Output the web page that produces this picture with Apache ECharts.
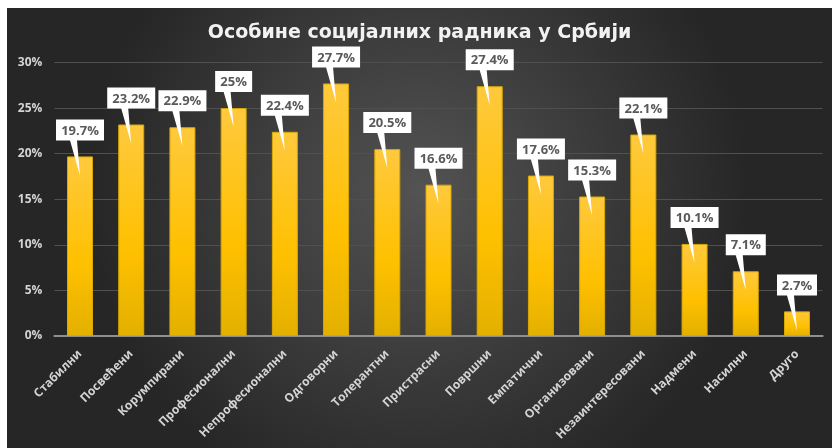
<!DOCTYPE html>
<html>
<head>
<meta charset="utf-8">
<script src="https://cdn.jsdelivr.net/npm/echarts@6/dist/echarts.min.js"></script>
<style>
  html, body { margin: 0; padding: 0; background: #fff; }
  #chart { position: absolute; left: 7px; top: 8px; width: 825px; height: 440px; }
</style>
</head>
<body>
<div id="chart"></div>
<script>
  // категорије и вредности (%)
  var categories = ['Стабилни', 'Посвећени', 'Корумпирани', 'Професионални', 'Непрофесионални',
    'Одговорни', 'Толерантни', 'Пристрасни', 'Површни', 'Емпатични', 'Организовани',
    'Незаинтересовани', 'Надмени', 'Насилни', 'Друго'];
  var values = [19.7, 23.2, 22.9, 25, 22.4, 27.7, 20.5, 16.6, 27.4, 17.6, 15.3, 22.1, 10.1, 7.1, 2.7];
  var yTicks = [0, 5, 10, 15, 20, 25, 30];

  var labelFont = 'bold 13px "Open Sans", sans-serif';
  var measureCtx = document.createElement('canvas').getContext('2d');
  measureCtx.font = labelFont;

  var chart = echarts.init(document.getElementById('chart'));

  // облачић са стрелицом изнад сваког стубића
  function renderCallout(params, api) {
    var v = api.value(1);
    var p = api.coord([api.value(0), v]);
    var txt = v + '%';
    var w = Math.round(measureCtx.measureText(txt).width) + 10;
    var h = 21;
    var cx = p[0];
    var yb = p[1] - 16;
    var x0 = cx - w / 2, x1 = cx + w / 2, y0 = yb - h;
    return {
      type: 'group',
      children: [
        {
          type: 'polygon',
          shape: {
            points: [[x0, y0], [x1, y0], [x1, yb], [cx - 3, yb], [cx, p[1] + 19], [cx - 10, yb], [x0, yb]]
          },
          style: { fill: '#ffffff', stroke: null }
        },
        {
          type: 'text',
          style: {
            text: txt,
            x: cx,
            y: y0 + h / 2 + 1,
            align: 'center',
            verticalAlign: 'middle',
            font: labelFont,
            fill: '#595959'
          }
        }
      ]
    };
  }

  var option = {
    backgroundColor: {
      type: 'radial', x: 0.5, y: 0.42, r: 0.75,
      colorStops: [
        { offset: 0, color: '#535353' },
        { offset: 1, color: '#262626' }
      ]
    },
    animation: false,
    title: {
      text: 'Особине социјалних радника у Србији',
      left: 'center',
      top: 11,
      textStyle: {
        color: '#f2f2f2',
        fontSize: 19,
        fontWeight: 'bold',
        fontFamily: '"DejaVu Sans", sans-serif'
      }
    },
    grid: { left: 47.4, right: 9.4, top: 54.5, bottom: 112, containLabel: false },
    xAxis: {
      type: 'category',
      data: categories,
      axisTick: { show: false },
      axisLine: { lineStyle: { color: '#8f8f8f', width: 2 } },
      axisLabel: {
        rotate: 45,
        interval: 0,
        margin: 16,
        color: '#d4d4d4',
        fontSize: 12,
        fontWeight: 'bold',
        fontFamily: '"Open Sans", sans-serif'
      }
    },
    yAxis: {
      type: 'value',
      min: yTicks[0],
      max: yTicks[yTicks.length - 1],
      interval: 5,
      axisLine: { show: false },
      axisTick: { show: false },
      splitLine: { lineStyle: { color: '#505050', width: 1 } },
      axisLabel: {
        margin: 12,
        color: '#d4d4d4',
        fontSize: 12,
        fontWeight: 'bold',
        fontFamily: '"Open Sans", sans-serif',
        formatter: '{value}%'
      }
    },
    series: [
      {
        type: 'bar',
        data: values,
        barWidth: 26,
        itemStyle: {
          color: {
            type: 'linear', x: 0, y: 0, x2: 0, y2: 1,
            colorStops: [
              { offset: 0, color: '#ffc93d' },
              { offset: 0.6, color: '#ffc000' },
              { offset: 1, color: '#e3b000' }
            ]
          },
          borderColor: '#d9a800',
          borderWidth: 1
        }
      },
      {
        type: 'custom',
        renderItem: renderCallout,
        clip: false,
        z: 5,
        data: values.map(function (v, i) { return [i, v]; })
      }
    ]
  };

  chart.setOption(option);
</script>
</body>
</html>
